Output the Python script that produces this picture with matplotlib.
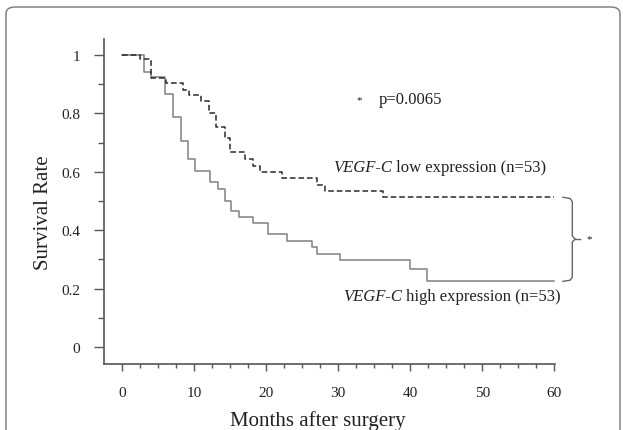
import matplotlib
matplotlib.use("Agg")
import matplotlib.pyplot as plt
from matplotlib.patches import FancyBboxPatch

plt.rcParams["font.family"] = ["Liberation Serif", "DejaVu Serif"]

# Kaplan-Meier steps (months, survival)
high_months = [0, 3.0, 4.0, 6.0, 7.1, 8.15, 9.1, 10.1, 12.2, 13.3, 14.3, 15.1,
               16.2, 18.2, 20.3, 22.9, 26.4, 27.0, 30.3, 40.0, 42.3, 60]
high_surv = [1.0, 0.943, 0.924, 0.866, 0.788, 0.706, 0.645, 0.604, 0.564, 0.540,
             0.499, 0.465, 0.444, 0.426, 0.386, 0.362, 0.341, 0.319, 0.297, 0.269,
             0.227, 0.227]

low_months = [0, 2.5, 4.0, 6.1, 8.4, 9.3, 11.0, 12.1, 13.1, 14.3, 15.0, 17.1,
              18.2, 19.2, 22.2, 27.0, 28.2, 36.2, 60]
low_surv = [1.0, 0.985, 0.923, 0.903, 0.882, 0.862, 0.842, 0.800, 0.755, 0.715,
            0.667, 0.644, 0.621, 0.598, 0.580, 0.554, 0.535, 0.513, 0.513]

x_ticks = [0, 10, 20, 30, 40, 50, 60]
y_ticks = [0, 0.2, 0.4, 0.6, 0.8, 1.0]
y_tick_labels = ["0", "0.2", "0.4", "0.6", "0.8", "1"]
p_value = "p=0.0065"

ink = "#222222"
axis_grey = "#555555"

fig = plt.figure(figsize=(6.23, 4.31), dpi=100)

# rounded frame around the whole panel
frame = FancyBboxPatch((6 / 623, -0.1), 614 / 623, 1.1 - 8 / 431,
                       boxstyle="round,pad=0,rounding_size=0.015",
                       transform=fig.transFigure, fill=False,
                       edgecolor="#777777", linewidth=1.0)
fig.patches.append(frame)

ax = fig.add_axes([104 / 623, 1 - 365 / 431, 451 / 623, 325 / 431])

ax.step(high_months, high_surv, where="post", color="#808080", lw=1.1)
ax.step(low_months, low_surv, where="post", color="#2a2a2a", lw=1.1,
        dashes=(3.7, 1.9))

ax.set_xlim(-2.5, 60.1)
ax.set_ylim(-0.058, 1.055)

for side in ["top", "right"]:
    ax.spines[side].set_visible(False)
for side in ["left", "bottom"]:
    ax.spines[side].set_color(axis_grey)
    ax.spines[side].set_linewidth(1.2)

ax.set_xticks(x_ticks)
ax.set_xticks([m * 2.5 for m in range(25)], minor=True)
ax.set_yticks(y_ticks)
ax.set_yticklabels(y_tick_labels)
ax.set_yticks([v / 10 for v in range(11)], minor=True)
ax.tick_params(axis="x", which="major", length=5, width=1, color=axis_grey,
               labelsize=11, labelcolor=ink, pad=11)
ax.tick_params(axis="x", which="minor", length=3, width=1, color=axis_grey)
ax.tick_params(axis="y", which="major", length=7, width=1, color=axis_grey,
               labelsize=11, labelcolor=ink, pad=10)
ax.tick_params(axis="y", which="minor", length=4, width=1, color=axis_grey)

fig.text(43 / 623, 1 - 213 / 431, "Survival Rate", rotation=90, fontsize=15,
         ha="center", va="center", color=ink)
fig.text(318 / 623, 1 - 421 / 431, "Months after surgery", fontsize=15,
         ha="center", va="center", color=ink)

# p-value note
ax.text(32.9, 0.849, "*", fontsize=8, ha="center", va="center", color=ink)
ax.text(35.6, 0.849, p_value, fontsize=12, ha="left", va="center", color=ink)

# group labels: italic gene name followed by plain text
t_low = ax.text(29.3, 0.616, "VEGF-C", fontsize=12, style="italic",
                ha="left", va="center", color=ink)
ax.annotate(" low expression (n=53)", xy=(1, 0), xycoords=t_low, fontsize=12,
            ha="left", va="bottom", color=ink)
t_high = ax.text(30.7, 0.176, "VEGF-C", fontsize=12, style="italic",
                 ha="left", va="center", color=ink)
ax.annotate(" high expression (n=53)", xy=(1, 0), xycoords=t_high, fontsize=12,
            ha="left", va="bottom", color=ink)

# brace joining the two curve ends, with significance star
top, bot = low_surv[-1], high_surv[-1]
mid = (top + bot) / 2
bx = [61.2, 62.2, 62.5, 62.5, 62.9, 62.5, 62.5, 62.2, 61.2]
by = [top, top - 0.004, top - 0.015, mid + 0.01, mid, mid - 0.01,
      bot + 0.012, bot + 0.002, bot - 0.002]
ax.plot(bx, by, color="#666666", lw=1.0, clip_on=False)
ax.plot([62.9, 63.6], [mid, mid], color="#666666", lw=1.0, clip_on=False)
ax.text(64.8, mid, "*", fontsize=8, ha="center", va="center", color=ink,
        clip_on=False)

fig.savefig("out.png", dpi=100)
